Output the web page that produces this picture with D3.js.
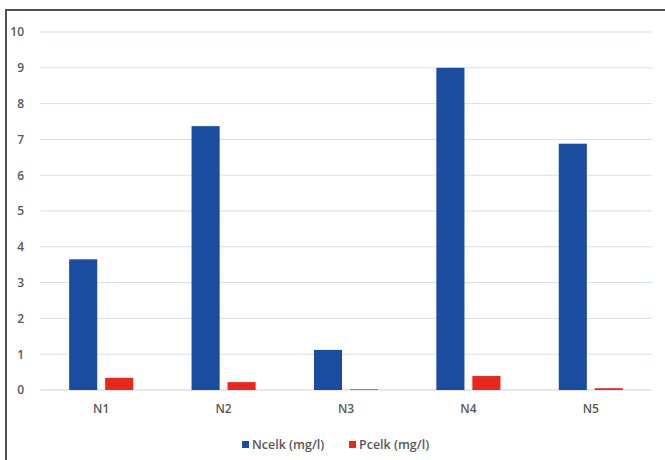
<!DOCTYPE html>
<html><head><meta charset="utf-8">
<script src="https://cdn.jsdelivr.net/npm/d3@7"></script>
<style>body{margin:0;background:#fff}svg{display:block}text{font-family:"Open Sans",Calibri,sans-serif}</style>
</head><body><svg id="c" width="665" height="460"></svg>
<script>
const categories = ["N1","N2","N3","N4","N5"];
const seriesNames = ["Ncelk (mg/l)","Pcelk (mg/l)"];
const ncelk = [3.65, 7.37, 1.12, 9.0, 6.88];
const pcelk = [0.34, 0.22, 0.02, 0.39, 0.05];
const yTicks = [0,1,2,3,4,5,6,7,8,9,10];
const colors = ["#1a4c9f","#e8281c"];

const svg = d3.select("#c");
const x = d3.scaleBand().domain(categories).range([40, 652]).paddingInner(0).paddingOuter(0);
const xs = d3.scaleBand().domain(seriesNames).range([0, x.bandwidth()]).paddingInner(0.22).paddingOuter(0.81);
const y = d3.scaleLinear().domain([0,10]).range([390, 32]);

// frame (top and left visible)
svg.append("line").attr("x1",5).attr("x2",665).attr("y1",10).attr("y2",10).attr("stroke","#505050").attr("stroke-width",2);
svg.append("line").attr("x1",6).attr("x2",6).attr("y1",9).attr("y2",460).attr("stroke","#505050").attr("stroke-width",2);

// gridlines
svg.append("g").selectAll("line").data(yTicks).join("line")
  .attr("x1",40).attr("x2",652).attr("y1",d=>y(d)).attr("y2",d=>y(d))
  .attr("stroke",d=>d===0?"#c9d3e3":"#d9dfe9").attr("stroke-width",1);

// y axis labels
const yAxis = d3.axisLeft(y).tickValues(yTicks).tickSize(0).tickPadding(0);
const gy = svg.append("g").attr("transform","translate(24,0)").call(yAxis);
gy.select(".domain").remove();
gy.selectAll("text").attr("fill","#595959").attr("font-size","12px").attr("font-weight","600");

// x axis labels
const xAxis = d3.axisBottom(x).tickSize(0).tickPadding(0);
const gx = svg.append("g").attr("transform","translate(0,404)").call(xAxis);
gx.select(".domain").remove();
gx.selectAll("text").attr("fill","#595959").attr("font-size","12px").attr("font-weight","600");

// bars
const data = categories.map((c,i)=>({cat:c, vals:[ncelk[i], pcelk[i]]}));
const groups = svg.append("g").selectAll("g").data(data).join("g")
  .attr("transform",d=>`translate(${x(d.cat)},0)`);
groups.selectAll("rect").data(d=>d.vals.map((v,j)=>({s:seriesNames[j], v, j}))).join("rect")
  .attr("x",d=>xs(d.s)).attr("width",xs.bandwidth())
  .attr("y",d=>y(d.v)).attr("height",d=>y(0)-y(d.v))
  .attr("fill",d=>colors[d.j]);

// legend
const leg = svg.append("g").attr("transform","translate(242,445)");
const items = [{n:seriesNames[0],c:colors[0],x:0},{n:seriesNames[1],c:colors[1],x:107}];
items.forEach(it=>{
  leg.append("rect").attr("x",it.x).attr("y",-4).attr("width",7).attr("height",7).attr("fill",it.c);
  leg.append("text").attr("x",it.x+10).attr("y",0).attr("dy","0.35em").attr("fill","#595959")
    .attr("font-size","12.5px").attr("font-weight","600").text(it.n);
});
</script></body></html>
